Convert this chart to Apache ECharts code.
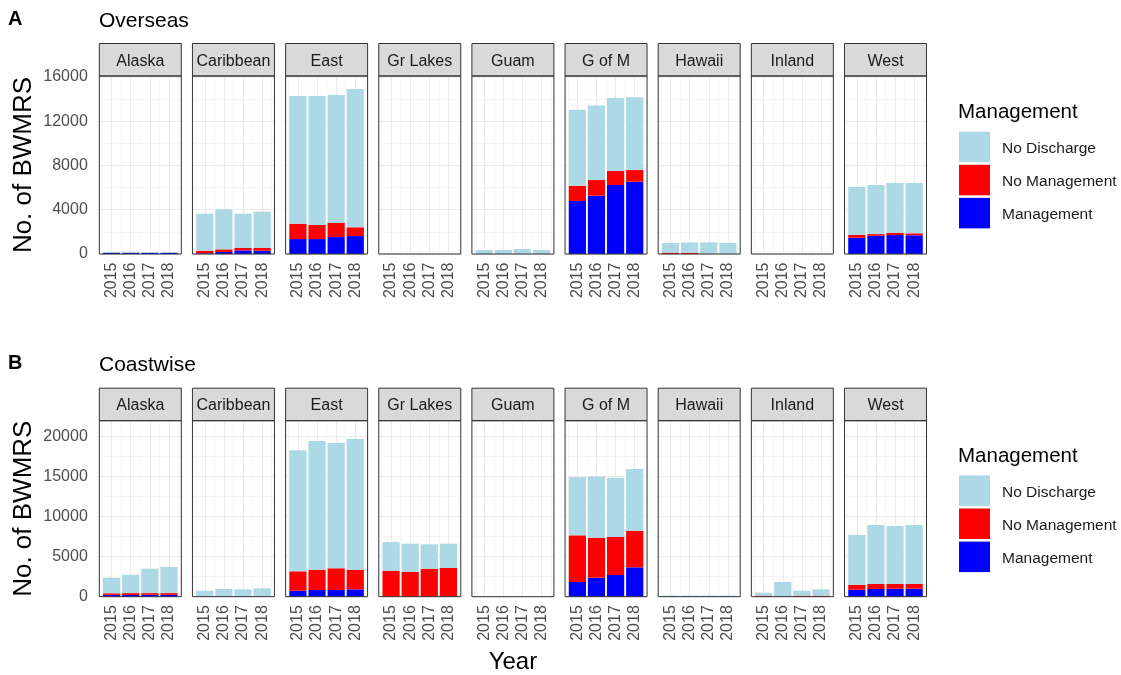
<!DOCTYPE html>
<html>
<head>
<meta charset="utf-8">
<script src="https://cdn.jsdelivr.net/npm/echarts@6/dist/echarts.min.js"></script>
<style>
  html, body { margin: 0; padding: 0; background: #ffffff; }
  #chart { width: 1121px; height: 675px; }
</style>
</head>
<body>
<div id="chart"></div>
<script>
// ---- data ---------------------------------------------------------------
const regions = ['Alaska', 'Caribbean', 'East', 'Gr Lakes', 'Guam', 'G of M', 'Hawaii', 'Inland', 'West'];
const years = ['2015', '2016', '2017', '2018'];
const majorYears = [2015, 2016, 2017, 2018];
const minorYears = [2014.5, 2015.5, 2016.5, 2017.5, 2018.5];
const groups = ['Management', 'No Management', 'No Discharge'];
const legendOrder = ['No Discharge', 'No Management', 'Management'];

// Overseas: one row per region, columns 2015..2018
const overseasManagement = [
  [110, 110, 100, 110], [60, 180, 330, 300], [1350, 1350, 1530, 1620],
  [0, 0, 0, 0], [10, 10, 10, 10], [4790, 5270, 6230, 6530],
  [0, 0, 0, 0], [0, 0, 0, 0], [1470, 1650, 1710, 1690]
];
const overseasNoManagement = [
  [10, 10, 10, 10], [240, 240, 210, 240], [1390, 1270, 1300, 790],
  [0, 0, 0, 0], [0, 0, 0, 0], [1380, 1410, 1290, 1050],
  [120, 100, 20, 20], [0, 0, 0, 0], [250, 150, 210, 180]
];
const overseasNoDischarge = [
  [80, 90, 70, 80], [3340, 3615, 3100, 3280], [11530, 11650, 11530, 12490],
  [30, 10, 20, 20], [350, 350, 440, 350], [6860, 6740, 6570, 6570],
  [870, 950, 1030, 970], [15, 10, 10, 10], [4330, 4430, 4490, 4540]
];

// Coastwise
const coastwiseManagement = [
  [230, 220, 240, 230], [0, 0, 0, 0], [750, 840, 840, 920],
  [0, 0, 0, 0], [0, 0, 0, 0], [1840, 2380, 2710, 3670],
  [0, 0, 0, 0], [0, 0, 0, 0], [870, 960, 1000, 1000]
];
const coastwiseNoManagement = [
  [200, 230, 210, 220], [10, 10, 10, 10], [2420, 2540, 2710, 2460],
  [3250, 3090, 3500, 3590], [0, 0, 0, 0], [5830, 5000, 4750, 4580],
  [0, 0, 0, 0], [130, 0, 130, 130], [590, 630, 590, 590]
];
const coastwiseNoDischarge = [
  [1950, 2300, 3050, 3260], [740, 950, 910, 1030], [15130, 16080, 15660, 16330],
  [3590, 3540, 3050, 3040], [10, 30, 30, 30], [7290, 7660, 7420, 7710],
  [150, 150, 150, 150], [370, 1840, 620, 790], [6250, 7370, 7250, 7370]
];

// y-axis breaks
const overseasTicks = [0, 4000, 8000, 12000, 16000];
const overseasMinorTicks = [2000, 6000, 10000, 14000];
const coastwiseTicks = [0, 5000, 10000, 15000, 20000];
const coastwiseMinorTicks = [2500, 7500, 12500, 17500];

// ---- layout & style -------------------------------------------------------
const colors = { 'Management': '#0000ff', 'No Management': '#ff0000', 'No Discharge': '#add8e6' };
const FONT = '"Liberation Sans", Arial, sans-serif';
const panelLeft0 = 99.3, panelStep = 93.15, panelW = 82;
const xMin = 2014.355, xMax = 2018.645;          // continuous year range of a panel
const pxPerYear = panelW / (xMax - xMin);
const barBandLeft = (2014.5 - xMin) * pxPerYear;  // where the first category band starts
const barBandW = 4 * pxPerYear;
const stripH = 32.5;

const rows = [
  { tag: 'A', title: 'Overseas', top: 76, height: 178, yMax: 16080,
    ticks: overseasTicks, minor: overseasMinorTicks,
    values: [overseasManagement, overseasNoManagement, overseasNoDischarge] },
  { tag: 'B', title: 'Coastwise', top: 420.7, height: 176, yMax: 22000,
    ticks: coastwiseTicks, minor: coastwiseMinorTicks,
    values: [coastwiseManagement, coastwiseNoManagement, coastwiseNoDischarge] }
];

const grid = [], xAxis = [], yAxis = [], series = [], graphic = [], title = [], legend = [];
const majorLine = { color: '#ebebeb', width: 1.1 };
const minorLine = { color: '#f2f2f2', width: 0.6 };

rows.forEach((row, r) => {
  title.push({ text: row.tag, left: 8, top: row.top - 67, padding: 0,
    textStyle: { fontFamily: FONT, fontSize: 20, fontWeight: 'bold', color: '#000' } });
  title.push({ text: row.title, left: 99, top: row.top - 65.5, padding: 0,
    textStyle: { fontFamily: FONT, fontSize: 21, fontWeight: 'normal', color: '#000' } });
  title.push({ text: 'Management', left: 958, top: row.top + 26 + (r ? -0.5 : 0), padding: 0,
    textStyle: { fontFamily: FONT, fontSize: 20.5, fontWeight: 'normal', color: '#000' } });

  legend.push({
    orient: 'vertical', left: 959, top: row.top + 55.7 + (r ? -1 : 0), padding: 0,
    itemWidth: 31, itemHeight: 30.5, itemGap: 2.6, icon: 'rect', selectedMode: false,
    data: legendOrder,
    formatter: name => '{t|' + name + '}',
    textStyle: {
      fontFamily: FONT, fontSize: 15.5, color: '#1a1a1a',
      rich: { t: { fontFamily: FONT, fontSize: 15.5, color: '#1a1a1a', padding: [4, 0, 0, 7] } }
    }
  });

  regions.forEach((reg, i) => {
    const left = panelLeft0 + i * panelStep;

    // panel grid: background grid lines and the y labels
    const gf = grid.length;
    grid.push({ left: left, top: row.top, width: panelW, height: row.height, show: false });
    xAxis.push({
      type: 'value', gridIndex: gf, min: xMin, max: xMax,
      axisLine: { show: false },
      axisTick: { show: false, customValues: majorYears },
      axisLabel: { show: false },
      splitLine: { show: true, lineStyle: majorLine }
    });
    xAxis.push({
      type: 'value', gridIndex: gf, min: xMin, max: xMax,
      axisLine: { show: false },
      axisTick: { show: false, customValues: minorYears },
      axisLabel: { show: false },
      splitLine: { show: true, lineStyle: minorLine }
    });
    yAxis.push({
      type: 'value', gridIndex: gf, min: 0, max: row.yMax, position: 'left',
      axisLine: { show: false },
      axisTick: { show: false, customValues: row.ticks },
      axisLabel: { show: i === 0, customValues: row.ticks, margin: 11.5,
        fontFamily: FONT, fontSize: 16, color: '#4d4d4d', formatter: v => String(v) },
      splitLine: { show: true, lineStyle: majorLine },
      name: i === 0 ? 'No. of BWMRS' : '',
      nameLocation: 'middle', nameGap: 62, nameRotate: 90,
      nameTextStyle: { fontFamily: FONT, fontSize: 26, color: '#000' }
    });
    yAxis.push({
      type: 'value', gridIndex: gf, min: 0, max: row.yMax, position: 'left',
      axisLine: { show: false },
      axisTick: { show: false, customValues: row.minor },
      axisLabel: { show: false },
      splitLine: { show: true, lineStyle: minorLine }
    });

    // bar grid: one band per year, sitting inside the panel
    const gb = grid.length;
    grid.push({ left: left + barBandLeft, top: row.top, width: barBandW, height: row.height, show: false });
    const xb = xAxis.length;
    xAxis.push({
      type: 'category', gridIndex: gb, data: years, boundaryGap: true,
      axisLine: { show: false }, axisTick: { show: false }, splitLine: { show: false },
      axisLabel: { show: true, interval: 0, rotate: 90, margin: 8.5,
        fontFamily: FONT, fontSize: 16, color: '#4d4d4d' }
    });
    const yb = yAxis.length;
    yAxis.push({
      type: 'value', gridIndex: gb, min: 0, max: row.yMax,
      axisLine: { show: false }, axisTick: { show: false },
      axisLabel: { show: false }, splitLine: { show: false }
    });

    groups.forEach((grp, k) => {
      series.push({
        type: 'bar', name: grp, stack: 'facet' + gb,
        xAxisIndex: xb, yAxisIndex: yb,
        barWidth: '90%',
        itemStyle: { color: colors[grp] },
        emphasis: { disabled: true },
        data: row.values[k][i]
      });
    });

    // facet strip and panel frame
    graphic.push({
      type: 'rect', z: 10,
      shape: { x: left, y: row.top - stripH, width: panelW, height: stripH },
      style: { fill: '#d9d9d9', stroke: '#333333', lineWidth: 1 }
    });
    graphic.push({
      type: 'text', z: 11,
      x: left + panelW / 2, y: row.top - stripH / 2 + 1.5,
      style: { text: reg, fill: '#1a1a1a', font: '16px ' + FONT, align: 'center', verticalAlign: 'middle' }
    });
    graphic.push({
      type: 'rect', z: 10,
      shape: { x: left, y: row.top, width: panelW, height: row.height },
      style: { fill: null, stroke: '#333333', lineWidth: 1 }
    });
  });
});

// shared x-axis title, centred under the middle panel of the lower row
const midLeft = panelLeft0 + 4 * panelStep + panelW / 2;
graphic.push({
  type: 'text', z: 11, x: midLeft, y: 662,
  style: { text: 'Year', fill: '#000', font: '24px ' + FONT, align: 'center', verticalAlign: 'middle' }
});

const chart = echarts.init(document.getElementById('chart'), null, { renderer: 'canvas' });
chart.setOption({
  backgroundColor: '#ffffff',
  animation: false,
  textStyle: { fontFamily: FONT },
  title: title,
  legend: legend,
  grid: grid,
  xAxis: xAxis,
  yAxis: yAxis,
  series: series,
  graphic: graphic
});
</script>
</body>
</html>
